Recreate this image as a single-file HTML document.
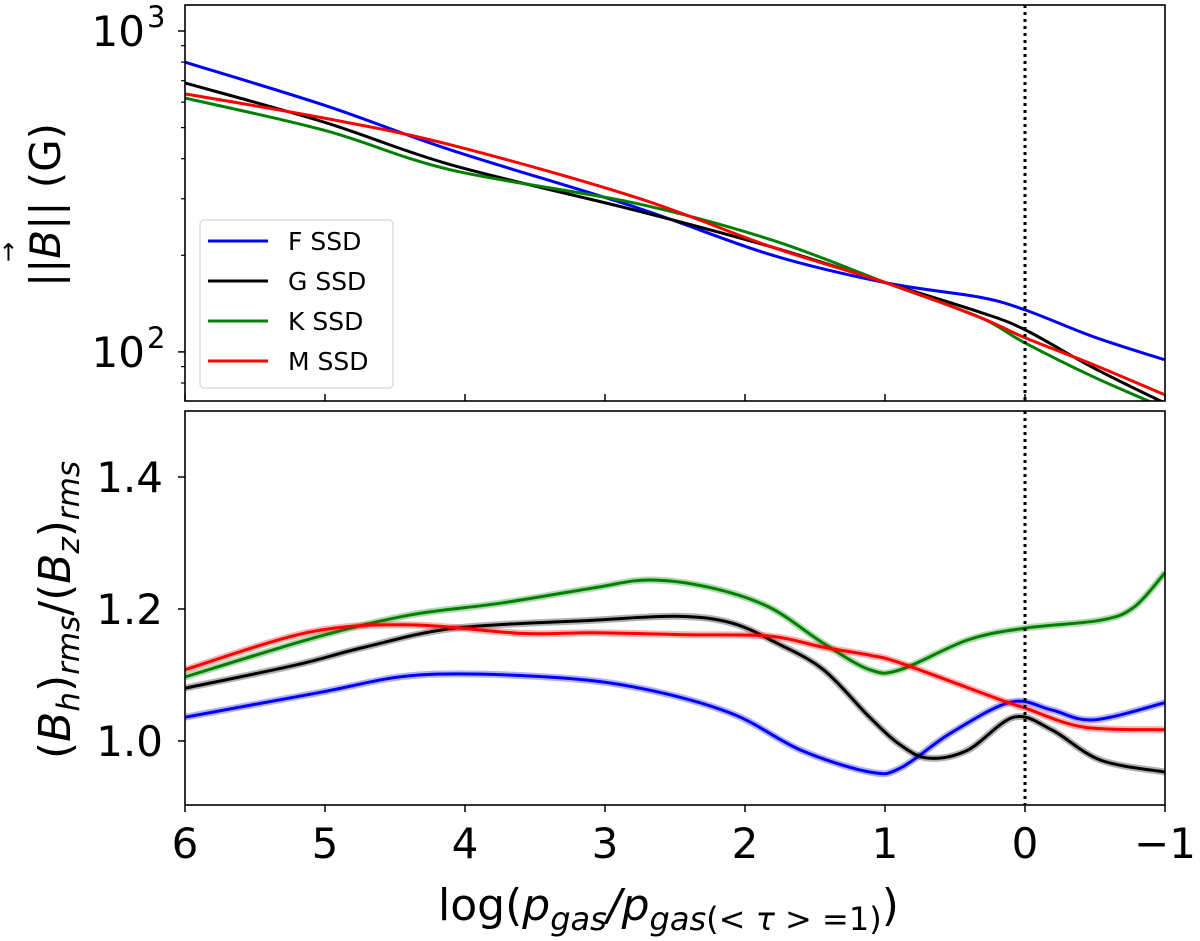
<!DOCTYPE html>
<html><head><meta charset="utf-8"><style>
html,body{margin:0;padding:0;background:#fff;}
svg{display:block;font-family:"DejaVu Sans","Liberation Sans",sans-serif;}
</style></head><body>
<svg id="chart" width="1200" height="941" viewBox="0 0 1200 941" xmlns="http://www.w3.org/2000/svg">
<g id="topPanel"></g>
<g id="botPanel"></g>
<g id="labels">
<text transform="translate(60,205) rotate(-90)" text-anchor="middle" font-size="42">||<tspan font-style="italic">B</tspan>|| (G)</text>
<text transform="translate(16,252) rotate(-90)" text-anchor="middle" font-size="24">→</text>
<text transform="translate(70,610) rotate(-90)" text-anchor="middle" font-size="44">(<tspan font-style="italic">B</tspan><tspan font-style="italic" font-size="31" dy="9">h</tspan><tspan dy="-9">)</tspan><tspan font-style="italic" font-size="31" dy="9">rms</tspan><tspan dy="-9">/(</tspan><tspan font-style="italic">B</tspan><tspan font-style="italic" font-size="31" dy="9">z</tspan><tspan dy="-9">)</tspan><tspan font-style="italic" font-size="31" dy="9">rms</tspan></text>
<text x="438" y="920" font-size="44">log(<tspan font-style="italic">p</tspan><tspan font-style="italic" font-size="32" dy="10">gas</tspan><tspan font-style="italic" dy="-10">/p</tspan><tspan font-style="italic" font-size="32" dy="10">gas</tspan><tspan font-size="32">(</tspan><tspan font-style="italic" font-size="32">&lt; τ &gt;</tspan><tspan font-size="32"> =1)</tspan><tspan dy="-10">)</tspan></text>
</g>
</svg>
<script>
// ---- data ----
const seriesNames = ["F SSD","G SSD","K SSD","M SSD"];
const seriesColors = ["#0000ff","#000000","#008000","#ff0000"];
// top panel: log10(|B|) vs log p
const topX = [6,5,4.1,2.79,1.81,0.99,0.33,0,-0.49,-1];
const topF = [2.903,2.768,2.629,2.452,2.302,2.215,2.171,2.131,2.047,1.975];
const topG = [2.838,2.715,2.583,2.442,2.327,2.215,2.125,2.069,1.950,1.840];
const topK = [2.791,2.690,2.567,2.464,2.349,2.215,2.109,2.028,1.922,1.825];
const topM = [2.804,2.728,2.645,2.483,2.327,2.215,2.109,2.044,1.960,1.866];
// bottom panel: ratio
const bF_x=[6,5.05,4.33,3.41,2.75,2.10,1.60,1.11,0.89,0.53,0.10,-0.19,-0.49,-1];
const bF_y=[1.036,1.073,1.100,1.097,1.080,1.042,0.986,0.953,0.959,1.012,1.059,1.047,1.032,1.058];
const bG_x=[6,5.21,4.72,4.07,3.08,2.49,2.10,1.77,1.44,1.11,0.89,0.69,0.41,0.08,-0.19,-0.54,-1];
const bG_y=[1.080,1.115,1.142,1.171,1.183,1.189,1.179,1.148,1.108,1.036,0.994,0.974,0.986,1.036,1.017,0.971,0.953];
const bK_x=[6,5.05,4.39,3.74,3.08,2.69,2.26,1.83,1.44,1.11,0.89,0.41,0,-0.54,-0.78,-1];
const bK_y=[1.097,1.158,1.191,1.209,1.232,1.244,1.233,1.203,1.148,1.108,1.108,1.153,1.171,1.183,1.203,1.255];
const bM_x=[6,5.11,4.39,3.60,3.08,2.42,1.83,1.44,1.11,0.89,0.17,0,-0.42,-1];
const bM_y=[1.108,1.165,1.176,1.163,1.164,1.161,1.159,1.142,1.130,1.118,1.062,1.050,1.021,1.017];
const xTicks=[6,5,4,3,2,1,0,-1];
const xTickLabels=["6","5","4","3","2","1","0","\u22121"];
const botTicks=[1.0,1.2,1.4];
const botTickLabels=["1.0","1.2","1.4"];

// ---- scales ----
const X0=185,X1=1165;
const sx=v=>X0+(6-v)/7*(X1-X0);
const T0=5,T1=401, tMin=1.847,tMax=3.081;
const syT=L=>T1-(L-tMin)/(tMax-tMin)*(T1-T0);
const B0=411,B1=805,bMin=0.903,bMax=1.5;
const syB=v=>B1-(v-bMin)/(bMax-bMin)*(B1-B0);
const NS="http://www.w3.org/2000/svg";
function mk(tag,attrs,parent){const e=document.createElementNS(NS,tag);for(const k in attrs)e.setAttribute(k,attrs[k]);parent.appendChild(e);return e;}
function pathD(pts){
  let d="M"+pts[0][0]+","+pts[0][1];
  for(let i=0;i<pts.length-1;i++){
    const p0=pts[Math.max(0,i-1)],p1=pts[i],p2=pts[i+1],p3=pts[Math.min(pts.length-1,i+2)];
    const c1=[p1[0]+(p2[0]-p0[0])/6,p1[1]+(p2[1]-p0[1])/6];
    const c2=[p2[0]-(p3[0]-p1[0])/6,p2[1]-(p3[1]-p1[1])/6];
    d+=" C"+c1.join(",")+" "+c2.join(",")+" "+p2.join(",");
  }
  return d;
}
const svgRoot=document.getElementById('chart');
const gTop=document.getElementById('topPanel'), gBot=document.getElementById('botPanel');
const defs=mk('defs',{},svgRoot);
const cp1=mk('clipPath',{id:'ct'},defs); mk('rect',{x:X0,y:T0,width:X1-X0,height:T1-T0},cp1);
const cp2=mk('clipPath',{id:'cb'},defs); mk('rect',{x:X0,y:B0,width:X1-X0,height:B1-B0},cp2);

// top series
const topSeries=[topF,topG,topK,topM];
const gT=mk('g',{'clip-path':'url(#ct)'},gTop);
topSeries.forEach((ys,i)=>{
  const p=mk('path',{d:pathD(topX.map((x,j)=>[sx(x),syT(ys[j])])),fill:'none',stroke:seriesColors[i],'stroke-width':3},gT);
  
  
});
// bottom series
const bx=[bF_x,bG_x,bK_x,bM_x], by=[bF_y,bG_y,bK_y,bM_y];
const gB=mk('g',{'clip-path':'url(#cb)'},gBot);
bx.forEach((xs,i)=>{
  const d=pathD(xs.map((x,j)=>[sx(x),syB(by[i][j])]));
  const band=mk('path',{d:d,fill:'none',stroke:seriesColors[i],'stroke-width':7,'stroke-opacity':0.3},gB);
  
  
  const p=mk('path',{d:d,fill:'none',stroke:seriesColors[i],'stroke-width':3},gB);
  
  
});
// dotted vertical line at 0
[[T0,T1],[B0,B1]].forEach(([a,b])=>{
  const l=mk('line',{x1:sx(0),x2:sx(0),y1:a,y2:b,stroke:'#000','stroke-width':3,'stroke-dasharray':'3,4'},svgRoot);
  
  
});
// frames
[[T0,T1,gTop],[B0,B1,gBot]].forEach(([a,b,g])=>{
  const r=mk('rect',{x:X0,y:a,width:X1-X0,height:b-a,fill:'none',stroke:'#000','stroke-width':1.6},g);
  
  
});
// x ticks
xTicks.forEach((v,i)=>{
  mk('line',{x1:sx(v),x2:sx(v),y1:T1,y2:T1-7,stroke:'#000','stroke-width':1.5},gTop);
  mk('line',{x1:sx(v),x2:sx(v),y1:B1,y2:B1+7,stroke:'#000','stroke-width':1.5},gBot);
  const t=mk('text',{x:sx(v),y:858,'text-anchor':'middle','font-size':42},gBot);
  t.textContent=xTickLabels[i];
  
  
});
// top y ticks (log)
[2,3].forEach(e=>{
  const y=syT(e);
  mk('line',{x1:X0,x2:X0-7,y1:y,y2:y,stroke:'#000','stroke-width':1.5},gTop);
  const t=mk('text',{x:145,y:y+15,'text-anchor':'end','font-size':42},gTop);
  t.textContent='10';
  
  
  const s=mk('text',{x:147,y:y-4,'font-size':29},gTop);
  s.textContent=String(e);
});
[70,80,90,200,300,400,500,600,700,800,900].forEach(v=>{
  const L=Math.log10(v); if(L<tMin||L>tMax)return;
  const y=syT(L);
  mk('line',{x1:X0,x2:X0-4,y1:y,y2:y,stroke:'#000','stroke-width':1.2},gTop);
});
// bottom y ticks
botTicks.forEach((v,i)=>{
  const y=syB(v);
  mk('line',{x1:X0,x2:X0-7,y1:y,y2:y,stroke:'#000','stroke-width':1.5},gBot);
  const t=mk('text',{x:163,y:y+15,'text-anchor':'end','font-size':42},gBot);
  t.textContent=botTickLabels[i];
  
  
});
// legend
const lg=mk('g',{},gTop);


mk('rect',{x:200,y:220,width:193,height:168,rx:4,fill:'#fff','fill-opacity':0.85,stroke:'#d6d6d6','stroke-width':1.2},lg);
seriesNames.forEach((n,i)=>{
  const y=241+i*40;
  const e=mk('g',{},lg);
  
  
  mk('line',{x1:208,x2:268,y1:y,y2:y,stroke:seriesColors[i],'stroke-width':3},e);
  const t=mk('text',{x:288,y:y+9,'font-size':25},e);
  t.textContent=n;
});
</script>
</body></html>
